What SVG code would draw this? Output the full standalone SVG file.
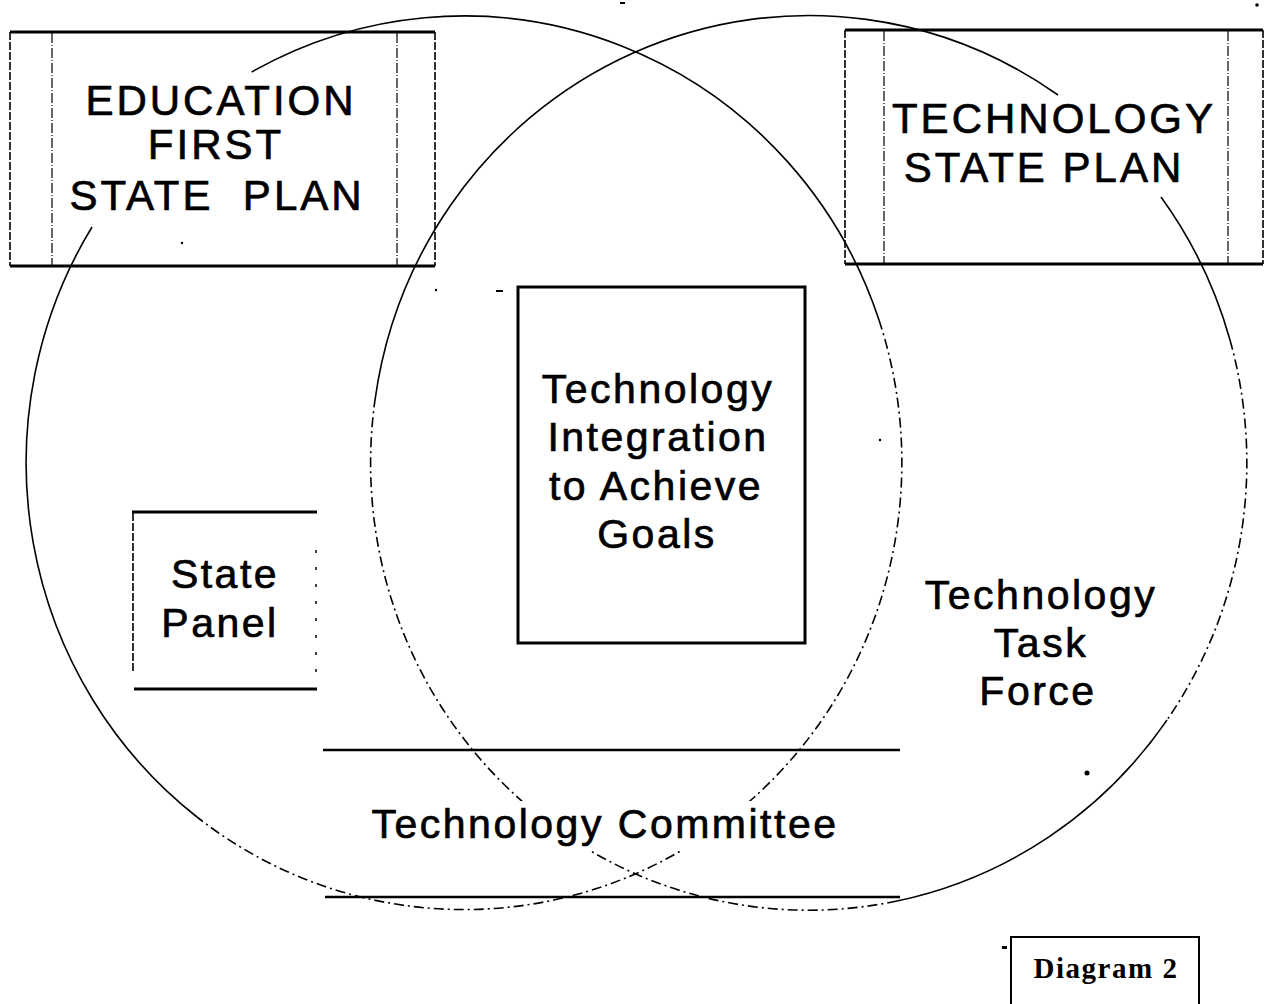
<svg xmlns="http://www.w3.org/2000/svg" width="1265" height="1004" viewBox="0 0 1265 1004">
  <style>
    .lbl { font-family: "Liberation Sans", Arial, sans-serif; fill: #000; stroke: #000; stroke-width: 0.7; text-anchor: middle; }
    .cap { font-size: 42px; letter-spacing: 3px; }
    .body { font-size: 41px; letter-spacing: 2.5px; }
    .tag { font-family: "Liberation Serif", "Times New Roman", serif; font-weight: bold; font-size: 29px; letter-spacing: 1.5px; text-anchor: middle; fill: #000; }
    .ring { fill: none; stroke: #000; stroke-width: 1.6; }
    .ring.broken { stroke-dasharray: 10 4 2 4; }
    .edge { fill: none; stroke: #000; stroke-width: 3; }
    .side { fill: none; stroke: #000; stroke-width: 1.6; stroke-dasharray: 8 2; }
    .inner { fill: none; stroke: #000; stroke-width: 1.2; stroke-dasharray: 10 2 1 2; }
    .speck { fill: #000; }
  </style>
  <rect width="1265" height="1004" fill="#fff"/>

  <!-- two overlapping rings; solid on the outside, broken where they overlap -->
  <g id="connectors">
    <!-- left ring: centre (464,463) -->
    <path class="ring" d="M251.7,72 A438,447 0 0 1 879,320"/>
    <path class="ring broken" d="M879,320 A438,447 0 0 1 197,817"/>
    <path class="ring" d="M197,817 A438,447 0 0 1 92,227"/>
    <!-- right ring: centre (809,463) -->
    <path class="ring" d="M1161,197 A438,447 0 0 1 1230,340"/>
    <path class="ring broken" d="M1230,340 A438,447 0 0 1 1167,720"/>
    <path class="ring" d="M1167,720 A438,447 0 0 1 897,901"/>
    <path class="ring broken" d="M897,901 A438,447 0 0 1 375,400"/>
    <path class="ring" d="M375,400 A438,447 0 0 1 1058,95"/>
  </g>

  <g id="education-first-plan">
    <line class="edge" x1="10" y1="32" x2="435" y2="32"/>
    <line class="edge" x1="10" y1="266" x2="435" y2="266"/>
    <line class="side" x1="10" y1="32" x2="10" y2="266"/>
    <line class="side" x1="435" y1="32" x2="435" y2="266"/>
    <line class="inner" x1="52" y1="33" x2="52" y2="265"/>
    <line class="inner" x1="397" y1="33" x2="397" y2="265"/>
    <text class="lbl cap" x="221" y="115">EDUCATION</text>
    <text class="lbl cap" x="216" y="159">FIRST</text>
    <text class="lbl cap" x="217" y="210" xml:space="preserve">STATE  PLAN</text>
  </g>

  <g id="technology-state-plan">
    <line class="edge" x1="845" y1="30" x2="1263" y2="30"/>
    <line class="edge" x1="845" y1="264" x2="1263" y2="264"/>
    <line class="side" x1="845" y1="30" x2="845" y2="264"/>
    <line class="side" x1="1263" y1="30" x2="1263" y2="264"/>
    <line class="inner" x1="884" y1="31" x2="884" y2="263"/>
    <line class="inner" x1="1228" y1="31" x2="1228" y2="263"/>
    <text class="lbl cap" x="1054" y="133">TECHNOLOGY</text>
    <text class="lbl cap" x="1044" y="182">STATE PLAN</text>
  </g>

  <g id="integration-goals">
    <rect x="518" y="287" width="287" height="356" fill="none" stroke="#000" stroke-width="3"/>
    <text class="lbl body" x="658" y="403">Technology</text>
    <text class="lbl body" x="658" y="451">Integration</text>
    <text class="lbl body" x="656" y="500">to Achieve</text>
    <text class="lbl body" x="657" y="548">Goals</text>
  </g>

  <g id="state-panel">
    <line class="edge" x1="132" y1="512" x2="317" y2="512"/>
    <line class="edge" x1="134" y1="689" x2="317" y2="689"/>
    <line class="side" x1="133" y1="513" x2="133" y2="672" stroke-width="1.4"/>
    <line x1="316" y1="550" x2="316" y2="675" stroke="#000" stroke-width="1.5" stroke-dasharray="3 14"/>
    <text class="lbl body" x="225" y="588">State</text>
    <text class="lbl body" x="220" y="637">Panel</text>
  </g>

  <g id="technology-task-force">
    <text class="lbl body" x="1041" y="609">Technology</text>
    <text class="lbl body" x="1041" y="657">Task</text>
    <text class="lbl body" x="1038" y="705">Force</text>
  </g>

  <g id="technology-committee">
    <line x1="323" y1="750" x2="900" y2="750" stroke="#000" stroke-width="2.5"/>
    <line x1="325" y1="897" x2="900" y2="897" stroke="#000" stroke-width="2.5"/>
    <!-- clear band so the rings break around the label -->
    <rect x="366" y="801" width="478" height="50" fill="#fff"/>
    <text class="lbl body" x="605" y="838">Technology Committee</text>
  </g>

  <g id="diagram-tag">
    <path d="M1011,1004 V937 H1199 V1004" fill="none" stroke="#000" stroke-width="2"/>
    <text class="tag" x="1106" y="978">Diagram 2</text>
  </g>

  <!-- stray marks -->
  <g id="specks">
    <circle class="speck" cx="1087" cy="773" r="2.5"/>
    <rect class="speck" x="1002" y="946" width="5" height="3"/>
    <rect class="speck" x="620" y="2" width="5" height="2"/>
    <circle class="speck" cx="1257" cy="5" r="1.8"/>
    <rect class="speck" x="496" y="290" width="7" height="2"/>
    <circle class="speck" cx="436" cy="290" r="1.2"/>
    <circle class="speck" cx="880" cy="440" r="1.2"/>
    <circle class="speck" cx="182" cy="243" r="1.2"/>
  </g>
</svg>
